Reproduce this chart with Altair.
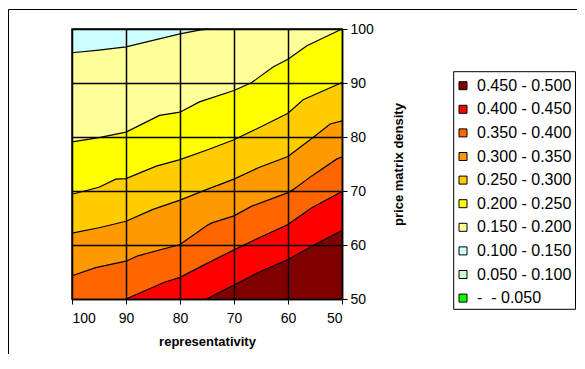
import altair as alt
import pandas as pd

# legend bands (high to low) and their colours
band_labels = ["0.450 - 0.500", "0.400 - 0.450", "0.350 - 0.400", "0.300 - 0.350",
               "0.250 - 0.300", "0.200 - 0.250", "0.150 - 0.200", "0.100 - 0.150",
               "0.050 - 0.100", "-\u00a0\u00a0- 0.050"]
band_colors = ["#800000", "#FF0000", "#FF6600", "#FF9900", "#FFCC00",
               "#FFFF00", "#FFFF99", "#CCFFFF", "#CCFFCC", "#00FF00"]

x_ticks = [100, 90, 80, 70, 60, 50]
y_ticks = [50, 60, 70, 80, 90, 100]

# contour isolines: representativity (x) -> price matrix density (y)
iso_015_x = [100, 95, 90, 85, 80, 76.4, 74.6]
iso_015_y = [95.6, 96.1, 96.7, 97.9, 99.1, 99.8, 100.0]
iso_020_x = [100, 95, 90, 83.8, 80, 76.4, 70, 66.7, 62.7, 60, 56.5, 50]
iso_020_y = [79.1, 79.9, 80.9, 84.0, 84.6, 86.5, 88.6, 90.1, 93.0, 94.4, 96.9, 100.0]
iso_025_x = [100, 95, 91.9, 90, 84.4, 80, 75, 70, 65, 60, 57.2, 50]
iso_025_y = [69.4, 70.7, 72.2, 72.3, 74.6, 75.8, 77.6, 79.5, 81.9, 84.4, 86.9, 90.1]
iso_030_x = [100, 95, 90, 85, 80, 75, 70, 65.5, 60, 55, 52.2, 50]
iso_030_y = [62.2, 63.2, 64.4, 66.6, 68.3, 70.3, 72.2, 74.3, 76.4, 80.2, 82.4, 83.0]
iso_035_x = [100, 95.6, 90, 87.8, 80, 75, 74.1, 70, 66.7, 60, 59, 55.6, 51, 50]
iso_035_y = [54.3, 55.8, 57.0, 58.0, 60.1, 63.6, 64.1, 65.4, 67.2, 69.7, 70.3, 72.8, 75.9, 76.3]
iso_040_x = [90, 82.9, 80, 75, 70, 66.7, 60, 55.6, 50]
iso_040_y = [50.0, 53.1, 54.0, 56.6, 59.1, 60.7, 63.8, 66.9, 69.9]
iso_045_x = [75.1, 70, 65.5, 60, 55, 50]
iso_045_y = [50.0, 52.6, 54.9, 57.3, 60.1, 62.7]

levels = [
    ("0.15", iso_015_x, iso_015_y, band_labels[6]),
    ("0.20", iso_020_x, iso_020_y, band_labels[5]),
    ("0.25", iso_025_x, iso_025_y, band_labels[4]),
    ("0.30", iso_030_x, iso_030_y, band_labels[3]),
    ("0.35", iso_035_x, iso_035_y, band_labels[2]),
    ("0.40", iso_040_x, iso_040_y, band_labels[1]),
    ("0.45", iso_045_x, iso_045_y, band_labels[0]),
]

rows = []
for lev, xs, ys, band in levels:
    pts = [(x, y, True) for x, y in zip(xs, ys)]
    # continue the band boundary along the plot edge where the isoline leaves it
    if xs[0] < 100:
        pts.insert(0, (100, 50.0, False))
    if xs[-1] > 50:
        pts.append((50, 100.0, False))
    for x, y, real in pts:
        rows.append({"x": x, "y": y, "level": lev, "band": band, "real": real})
df = pd.DataFrame(rows)

FONT = "Liberation Sans"

x_enc = alt.X("x:Q",
              scale=alt.Scale(domain=[50, 100], reverse=True, nice=False, zero=False),
              axis=alt.Axis(values=x_ticks, title="representativity", grid=True,
                            gridColor="black", gridWidth=1.5, gridOpacity=1,
                            domainColor="black", domainWidth=1.5,
                            tickColor="black", tickSize=5, tickWidth=1,
                            labelFontSize=14, labelPadding=7, labelColor="black",
                            labelFont=FONT, titleFont=FONT, titleFontSize=13,
                            titleFontWeight="bold", titleColor="black",
                            titlePadding=10, zindex=1))
y_enc = alt.Y("y:Q",
              scale=alt.Scale(domain=[50, 100], nice=False, zero=False),
              axis=alt.Axis(values=y_ticks, orient="right", title="price matrix density",
                            grid=True, gridColor="black", gridWidth=1.5, gridOpacity=1,
                            domainColor="black", domainWidth=1.5,
                            tickColor="black", tickSize=5, tickWidth=1,
                            labelFontSize=14, labelPadding=3, labelColor="black",
                            labelFont=FONT, titleFont=FONT, titleFontSize=13,
                            titleFontWeight="bold", titleColor="black",
                            titleAngle=270, titlePadding=32, zindex=1))

color_enc = alt.Color("band:N",
                      scale=alt.Scale(domain=band_labels, range=band_colors),
                      legend=alt.Legend(title=None, orient="none", legendX=383, legendY=48.7,
                                        padding=0,
                                        symbolType="square", symbolSize=64,
                                        symbolStrokeColor="black", symbolStrokeWidth=1,
                                        symbolOpacity=1, labelFontSize=16, labelFont=FONT,
                                        labelColor="black", rowPadding=7.6, labelOffset=6))

layers = []
for lev, xs, ys, band in levels:
    layers.append(
        alt.Chart(df).mark_area(opacity=1, interpolate="linear")
        .transform_filter(alt.datum.level == lev)
        .encode(x=x_enc, y=y_enc, y2=alt.datum(50), color=color_enc)
    )

lines = alt.Chart(df).mark_line(color="black", strokeWidth=1.2).transform_filter(
    alt.datum.real == True
).encode(x=x_enc, y=y_enc, detail="level:N")

deco = pd.DataFrame({"a": [0]})
frame = alt.Chart(deco).mark_rect(
    filled=False, stroke="black", strokeWidth=1
).encode(x=alt.value(-63.5), x2=alt.value(700), y=alt.value(-19.5), y2=alt.value(500))

legend_box = alt.Chart(deco).mark_rect(
    fill="white", stroke="black", strokeWidth=1
).encode(x=alt.value(381.7), x2=alt.value(503.5), y=alt.value(42.7), y2=alt.value(280.3))

chart = alt.layer(*layers, lines, frame, legend_box).properties(
    width=270, height=270,
    autosize=alt.AutoSizeParams(type="none"),
    padding={"left": 64, "top": 21, "right": 235, "bottom": 55},
).configure(font=FONT).configure_view(fill="#CCFFFF", stroke="black", strokeWidth=1.5)

chart.save("out.html", embed_options={"renderer": "svg", "actions": False})
